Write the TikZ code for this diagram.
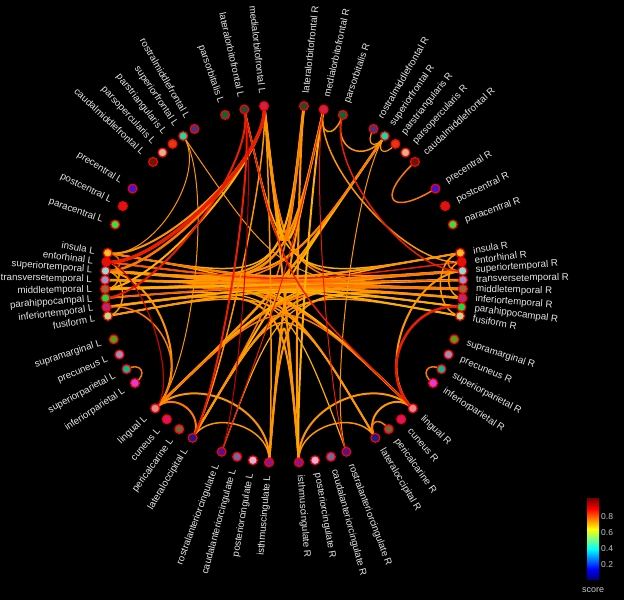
\documentclass[tikz,border=0pt]{standalone}
\usepackage{fontspec}
\setmainfont{Liberation Sans}
\usetikzlibrary{calc}
\pgfdeclarelayer{bgl}\pgfdeclarelayer{edgel}\pgfsetlayers{bgl,edgel,main}
\definecolor{Cmof}{RGB}{200,35,75}\definecolor{Clof}{RGB}{35,75,50}\definecolor{Cporb}{RGB}{20,100,50}
\definecolor{Crmf}{RGB}{75,50,125}\definecolor{Csf}{RGB}{20,220,160}\definecolor{Cptri}{RGB}{220,60,20}
\definecolor{Cpoper}{RGB}{220,180,140}\definecolor{Ccmf}{RGB}{100,25,0}\definecolor{Cprec}{RGB}{60,20,220}
\definecolor{Cpostc}{RGB}{220,20,20}\definecolor{Cparac}{RGB}{60,220,60}\definecolor{Cins}{RGB}{255,192,32}
\definecolor{Cent}{RGB}{220,20,10}\definecolor{Cst}{RGB}{140,220,220}\definecolor{Ctt}{RGB}{150,150,200}
\definecolor{Cmt}{RGB}{160,100,50}\definecolor{Cph}{RGB}{20,220,60}\definecolor{Cit}{RGB}{180,40,120}
\definecolor{Cfus}{RGB}{180,220,140}\definecolor{Csm}{RGB}{80,160,20}\definecolor{Cpcun}{RGB}{160,140,180}
\definecolor{Csp}{RGB}{20,180,140}\definecolor{Cip}{RGB}{220,60,220}\definecolor{Cling}{RGB}{225,140,140}
\definecolor{Ccun}{RGB}{220,20,100}\definecolor{Cperi}{RGB}{120,100,60}\definecolor{Clo}{RGB}{20,30,140}
\definecolor{Crac}{RGB}{80,20,140}\definecolor{Ccac}{RGB}{125,100,160}\definecolor{Cpc}{RGB}{220,180,220}
\definecolor{Cisth}{RGB}{140,20,140}
\definecolor{eo}{RGB}{255,150,0}\definecolor{eoa}{RGB}{255,120,0}\definecolor{eob}{RGB}{255,175,0}
\definecolor{eoc}{RGB}{255,90,0}\definecolor{er}{RGB}{235,30,0}\definecolor{erb}{RGB}{200,0,0}
\definecolor{lblc}{RGB}{230,230,230}\definecolor{tickc}{RGB}{200,200,200}
\definecolor{jA}{rgb}{0,0,0.5}\definecolor{jB}{rgb}{0,0,1}\definecolor{jC}{rgb}{0,1,1}
\definecolor{jD}{rgb}{0.5,1,0.5}\definecolor{jE}{rgb}{1,1,0}\definecolor{jF}{rgb}{1,0,0}\definecolor{jG}{rgb}{0.5,0,0}
\pgfdeclareverticalshading{jetsh}{100bp}{color(0bp)=(jA); color(25bp)=(jA); color(31.25bp)=(jB); color(43.75bp)=(jC); color(50bp)=(jD); color(56.25bp)=(jE); color(68.75bp)=(jF); color(75bp)=(jG); color(100bp)=(jG)}
\tikzset{
  reg/.style={circle, draw=red, line width=1.2pt, minimum size=8.8pt, inner sep=0pt},
  lbl/.style={text=lblc, inner sep=0pt, font=\fontsize{9.7}{11}\selectfont},
  tck/.style={text=tickc, inner sep=0pt, font=\fontsize{8.5}{10}\selectfont}
}
\newcommand\rl[4]{%
  \node[reg, fill=#3] (#1) at (#2:179) {};
  \pgfmathsetmacro\ra{#2-180}%
  \node[lbl, rotate=\ra, anchor=east] (#1t) at (#2:192) {#4};}
\newcommand\rr[4]{%
  \node[reg, fill=#3] (#1) at (#2:179) {};
  \node[lbl, rotate=#2, anchor=west] (#1t) at (#2:192) {#4};}
\begin{document}
\begin{tikzpicture}[x=1pt,y=1pt]
\begin{pgfonlayer}{bgl}
\fill[black] (0,0) rectangle (624,600);
\end{pgfonlayer}
\useasboundingbox (0,0) rectangle (624,600);
\begin{scope}[shift={(284,316)}]
\coordinate (O) at (0,0);
% left hemisphere
\rl{mofL}{96.4}{Cmof}{medialorbitofrontal L}
\rl{lofL}{102.8}{Clof}{lateralorbitofrontal L}
\rl{porbL}{109.2}{Cporb}{parsorbitalis L}
\rl{rmfL}{120}{Crmf}{rostralmiddlefrontal L}
\rl{sfL}{124.25}{Csf}{superiorfrontal L}
\rl{ptriL}{128.5}{Cptri}{parstriangularis L}
\rl{poperL}{132.75}{Cpoper}{parsopercularis L}
\rl{cmfL}{137}{Ccmf}{caudalmiddlefrontal L}
\rl{precL}{147.8}{Cprec}{precentral L}
\rl{postcL}{154.2}{Cpostc}{postcentral L}
\rl{paracL}{160.6}{Cparac}{paracentral L}
\rl{insL}{170}{Cins}{insula L}
\rl{entL}{172.9}{Cent}{entorhinal L}
\rl{stL}{175.8}{Cst}{superiortemporal L}
\rl{ttL}{178.7}{Ctt}{transversetemporal L}
\rl{mtL}{181.6}{Cmt}{middletemporal L}
\rl{phL}{184.5}{Cph}{parahippocampal L}
\rl{itL}{187.4}{Cit}{inferiortemporal L}
\rl{fusL}{190.3}{Cfus}{fusiform L}
\rl{smL}{198}{Csm}{supramarginal L}
\rl{pcunL}{203.2}{Cpcun}{precuneus L}
\rl{spL}{208.4}{Csp}{superiorparietal L}
\rl{ipL}{213.6}{Cip}{inferiorparietal L}
\rl{lingL}{224}{Cling}{lingual L}
\rl{cunL}{229.1}{Ccun}{cuneus L}
\rl{periL}{234.2}{Cperi}{pericalcarine L}
\rl{loL}{239.3}{Clo}{lateraloccipital L}
\rl{racL}{249.6}{Crac}{rostralanteriorcingulate L}
\rl{cacL}{254.8}{Ccac}{caudalanteriorcingulate L}
\rl{pcL}{260}{Cpc}{posteriorcingulate L}
\rl{isthL}{265.2}{Cisth}{isthmuscingulate L}
% right hemisphere
\rr{lofR}{83.6}{Clof}{lateralorbitofrontal R}
\rr{mofR}{77.2}{Cmof}{medialorbitofrontal R}
\rr{porbR}{70.8}{Cporb}{parsorbitalis R}
\rr{rmfR}{60}{Crmf}{rostralmiddlefrontal R}
\rr{sfR}{55.75}{Csf}{superiorfrontal R}
\rr{ptriR}{51.5}{Cptri}{parstriangularis R}
\rr{poperR}{47.25}{Cpoper}{parsopercularis R}
\rr{cmfR}{43}{Ccmf}{caudalmiddlefrontal R}
\rr{precR}{32.2}{Cprec}{precentral R}
\rr{postcR}{25.8}{Cpostc}{postcentral R}
\rr{paracR}{19.4}{Cparac}{paracentral R}
\rr{insR}{10}{Cins}{insula R}
\rr{entR}{7.1}{Cent}{entorhinal R}
\rr{stR}{4.2}{Cst}{superiortemporal R}
\rr{ttR}{1.3}{Ctt}{transversetemporal R}
\rr{mtR}{-1.6}{Cmt}{middletemporal R}
\rr{itR}{-4.5}{Cit}{inferiortemporal R}
\rr{phR}{-7.4}{Cph}{parahippocampal R}
\rr{fusR}{-10.3}{Cfus}{fusiform R}
\rr{smR}{-18}{Csm}{supramarginal R}
\rr{pcunR}{-23.2}{Cpcun}{precuneus R}
\rr{spR}{-28.4}{Csp}{superiorparietal R}
\rr{ipR}{-33.6}{Cip}{inferiorparietal R}
\rr{lingR}{-44}{Cling}{lingual R}
\rr{cunR}{-49.1}{Ccun}{cuneus R}
\rr{periR}{-54.2}{Cperi}{pericalcarine R}
\rr{loR}{-59.3}{Clo}{lateraloccipital R}
\rr{racR}{-69.6}{Crac}{rostralanteriorcingulate R}
\rr{cacR}{-74.8}{Ccac}{caudalanteriorcingulate R}
\rr{pcR}{-80}{Cpc}{posteriorcingulate R}
\rr{isthR}{-85.2}{Cisth}{isthmuscingulate R}
\begin{pgfonlayer}{edgel}
\foreach \a/\b/\f/\c/\w in {
 stL/lingR/0/eo/2.5, mtL/lingR/0/eoa/2, ttL/loR/0/eo/2, itL/isthR/0/eo/2, insL/lingR/0/eob/1.5,
 fusL/loR/0/eo/1.5, phL/racR/0/eob/1.2,
 stR/lingL/0/eo/2.5, mtR/lingL/0/eoa/2, ttR/loL/0/eo/2, itR/isthL/0/eo/2, insR/lingL/0/eob/1.5,
 fusR/loL/0/eo/1.5, phR/racL/0/eob/1.2,
 mofL/lofR/0/eo/3, mofL/mofR/0/eob/2.5, lofL/lofR/0/eoa/2, lofL/mofR/0/eo/1.5,
 mofL/stR/0/eo/2, mofL/mtR/0/eoa/1.5, lofL/insR/0/eob/1.5,
 lofR/stL/0/eo/2, mofR/mtL/0/eoa/2, lofR/insL/0/eob/1.5, mofR/ttL/0/eo/1.5,
 sfR/lingL/0/eo/2.5, sfR/loL/0/eob/2, sfR/stL/0/eo/2, sfR/mtL/0/eoa/1.5, sfL/mtR/0/eo/1,
 mofL/isthR/0/eo/2, mofR/isthL/0/eo/2, lofR/loL/0/eoa/1.5,
 isthL/isthR/0/eo/2, lingL/lingR/0/eoa/1.5, loL/loR/0/eo/1.5,
 insL/insR/0/eo/2, insL/stR/0/eoa/1.5, entL/stR/0/eo/2, stL/stR/0/eo/3, stL/ttR/0/eoa/2,
 stL/mtR/0/eo/2.5, ttL/ttR/0/eob/2.5, ttL/stR/0/eoc/1.5, ttL/mtR/0/eo/2, mtL/mtR/0/eo/3,
 mtL/stR/0/eoa/2, mtL/itR/0/eo/2, mtL/ttR/0/eob/2, phL/phR/0/eo/2, phL/mtR/0/eoc/1.5,
 itL/itR/0/eo/2.5, itL/mtR/0/eoa/2, fusL/fusR/0/eob/2, fusL/phR/0/eo/1.5, insL/mtR/0/eoa/1.5,
 stL/insR/0/eo/1.5, itL/phR/0/eob/1.5, entL/entR/0/er/1.5, entL/ttR/0/eoc/1.2,
 mofL/stL/0.72/eoa/2.5, mofL/insL/0.72/eo/2, mofL/mtL/0.72/eob/2, mofL/loL/0.7/eo/1.5, mofL/isthL/0.7/eo/1.5,
 sfL/insL/0.75/eo/1, sfL/lingL/0.7/eo/1,
 porbR/mofR/0.85/eo/1.5, sfR/rmfR/0.9/eo/1.2, sfR/ptriR/0.9/eo/1.2, sfR/porbR/0.8/eo/1.5,
 sfR/racR/0.7/eo/1, cmfR/precR/0.7/eoa/1.5, mofR/entR/0.7/eo/1.5, lofR/isthR/0.7/eo/2, mofR/isthR/0.7/eob/2,
 spL/ipL/0.91/eoa/1.5, spR/ipR/0.91/eoa/1.5,
 lingL/loL/0.85/eoa/2, lingL/isthL/0.7/eo/2, loL/isthL/0.8/eo/1.5, lingL/stL/0.7/eo/2, itL/lingL/0.7/eoa/1.5,
 lingR/stR/0.7/eo/2, lingR/loR/0.85/eo/2, periR/loR/0.9/eoa/1.5, lingR/isthR/0.7/eo/2, loR/isthR/0.8/eo/1.5,
 insL/stL/0.9/eoc/1.5, entL/mtL/0.9/eo/1.5, insR/stR/0.9/eoa/1.5, entR/itR/0.9/eo/1.5, insR/fusR/0.85/eo/1.5,
 stL/fusL/0.88/eo/1.5,
 mofL/entL/0.72/er/3.5, lofL/loL/0.7/er/2, lofL/racL/0.7/erb/1, lofL/phL/0.7/er/2, porbR/stR/0.7/er/1.5,
 mofR/racR/0.7/er/1, lingR/phR/0.7/er/2.5, mofR/racL/0/er/1, lofL/lingR/0/er/1.5, lingL/entL/0.8/erb/1.2
} {
  \draw[color=\c, line width=\w pt, line cap=round] (\a.center) .. controls ($(O)!\f!(\a.center)$) and ($(O)!\f!(\b.center)$) .. (\b.center);
}
\end{pgfonlayer}
\end{scope}
% colour bar
\shade[shading=jetsh] (587,21) rectangle (599,101);
\node[tck, anchor=west] (t8) at (601,83) {0.8};
\node[tck, anchor=west] (t6) at (601,67) {0.6};
\node[tck, anchor=west] (t4) at (601,51) {0.4};
\node[tck, anchor=west] (t2) at (601,35) {0.2};
\node[tck, font=\fontsize{9}{10}\selectfont] (sc) at (593,10) {score};
\end{tikzpicture}
\end{document}
